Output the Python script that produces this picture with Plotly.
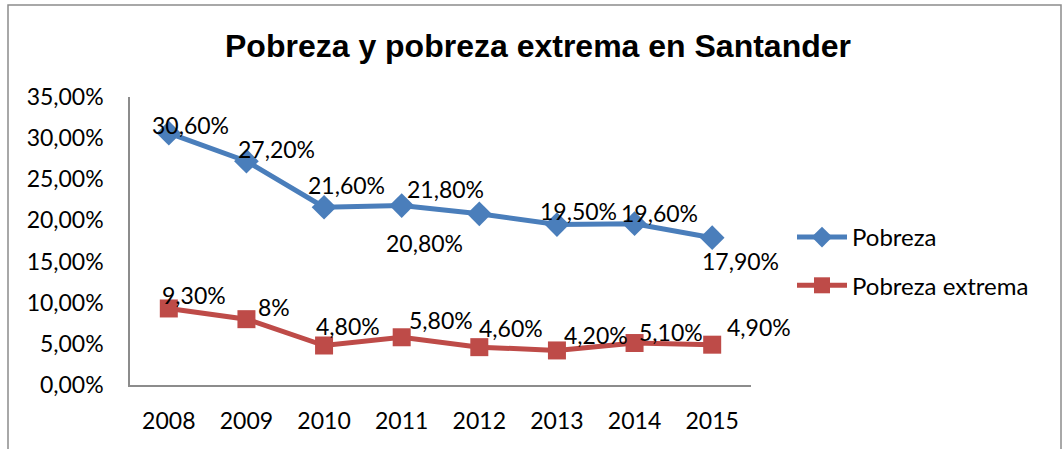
import plotly.graph_objects as go

years = ["2008", "2009", "2010", "2011", "2012", "2013", "2014", "2015"]
pobreza = [0.306, 0.272, 0.216, 0.218, 0.208, 0.195, 0.196, 0.179]
extrema = [0.093, 0.08, 0.048, 0.058, 0.046, 0.042, 0.051, 0.049]
y_ticks = [0, 0.05, 0.10, 0.15, 0.20, 0.25, 0.30, 0.35]

# label offsets in pixels (dx, dy with dy positive = up)
off_pob = [(22, 8), (30, 12), (22, 22), (44, 17), (-55, -29), (22, 14), (25, 11), (28, -23)]
off_ext = [(25, 13), (28, 12), (24, 20), (39, 17), (32, 19), (39, 15), (36, 11), (47, 18)]


def fmt(v):
    p = round(v * 100, 2)
    if abs(p - round(p)) < 1e-9:
        return f"{int(round(p))}%"
    return f"{p:.2f}".replace(".", ",") + "%"


FONT = "Lato, 'Open Sans', sans-serif"
FS = 23
BLUE = "#4A7EBB"
RED = "#BE4B48"

fig = go.Figure()
fig.add_trace(go.Scatter(
    x=years, y=pobreza, mode="lines+markers", name="Pobreza",
    line=dict(color=BLUE, width=5),
    marker=dict(symbol="diamond", size=19, color=BLUE),
    legendgroup="a",
))
fig.add_trace(go.Scatter(
    x=years, y=extrema, mode="lines+markers", name="Pobreza extrema",
    line=dict(color=RED, width=5),
    marker=dict(symbol="square", size=18, color=RED),
    legendgroup="b",
))

ann = []
for series, offs in ((pobreza, off_pob), (extrema, off_ext)):
    for i, (v, (dx, dy)) in enumerate(zip(series, offs)):
        ann.append(dict(x=i, y=v, xref="x", yref="y", text=fmt(v), showarrow=False,
                        xshift=dx, yshift=dy, xanchor="center", yanchor="middle",
                        font=dict(family=FONT, size=23, color="#000000")))

W, H = 1063, 449
ml, mr, mt, mb = 130, 312, 97, 64
pw, ph = W - ml - mr, H - mt - mb

fig.update_layout(
    width=W, height=H,
    margin=dict(l=ml, r=mr, t=mt, b=mb, autoexpand=False),
    paper_bgcolor="white", plot_bgcolor="white",
    separators=",.",
    font=dict(family=FONT, size=FS, color="#000000"),
    title=dict(text="<b>Pobreza y pobreza extrema en Santander</b>",
               x=538 / W, xref="container", xanchor="center",
               y=1 - 46 / H, yanchor="middle",
               font=dict(family="Liberation Sans, Arial, sans-serif", size=32, color="#000000")),
    xaxis=dict(type="category", range=[-0.5, 7.5], automargin=False,
               showline=True, linecolor="#8C8C8C", linewidth=1.5, showgrid=False,
               ticks="", ticklabelstandoff=15, tickfont=dict(size=23), zeroline=False),
    yaxis=dict(range=[0, 0.35], tickvals=y_ticks, tickformat=".2%", automargin=False,
               showline=True, linecolor="#8C8C8C", linewidth=1.5, showgrid=False,
               ticks="", ticklabelstandoff=20, tickfont=dict(size=23), zeroline=False),
    legend=dict(x=(792 - ml) / pw, y=1 - (215 - mt) / ph, xanchor="left", yanchor="top",
                font=dict(family=FONT, size=24), traceorder="grouped", tracegroupgap=14,
                bgcolor="rgba(0,0,0,0)", itemwidth=50),
    annotations=ann,
    shapes=[dict(type="rect", xref="paper", yref="paper",
                 x0=(8 - ml) / pw, x1=(1061 - ml) / pw,
                 y0=-(H + 20 - (H - mb)) / ph, y1=1 + (mt - 5) / ph,
                 line=dict(color="#8C8C8C", width=1.5), fillcolor="rgba(0,0,0,0)", layer="below")],
)

fig.write_html("out.html", config={"displayModeBar": False},
               post_script="document.body.style.margin='0';")
